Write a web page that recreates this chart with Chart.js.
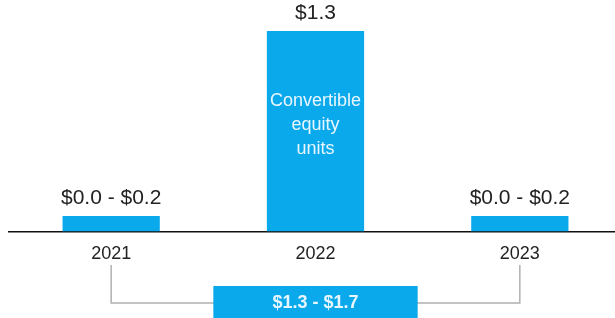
<!DOCTYPE html>
<html>
<head>
<meta charset="utf-8">
<script src="https://cdn.jsdelivr.net/npm/chart.js@4"></script>
<style>
  html, body { margin: 0; padding: 0; background: #fff; overflow: hidden; width: 615px; height: 318px; }
  #wrap { width: 615px; height: 318px; overflow: hidden; position: relative; }
  canvas { display: block; }
</style>
</head>
<body>
<div id="wrap"><canvas id="chart" width="622" height="318"></canvas></div>
<script>
var years = ["2021", "2022", "2023"];
var values = [0.1, 1.3, 0.1];
var valueLabels = ["$0.0 - $0.2", "$1.3", "$0.0 - $0.2"];
var innerLabel = ["Convertible", "equity", "units"];
var totalLabel = "$1.3 - $1.7";

var blue = "#0aa9ec";
var fontName = "'Liberation Sans', Arial, sans-serif";

var labelPlugin = {
    id: "labels",
    afterDatasetsDraw: function(chart) {
        var ctx = chart.ctx;
        var meta = chart.getDatasetMeta(0);
        ctx.save();
        ctx.textAlign = "center";
        ctx.textBaseline = "bottom";
        ctx.fillStyle = "#222";
        ctx.font = "21px " + fontName;
        meta.data.forEach(function(bar, i) {
            ctx.fillText(valueLabels[i], bar.x, bar.y - 7);
        });
        // text inside the tall bar
        var big = meta.data[1];
        ctx.fillStyle = "#e8f7ff";
        ctx.font = "18px " + fontName;
        ctx.textBaseline = "middle";
        innerLabel.forEach(function(t, j) {
            ctx.fillText(t, big.x, 101 + j * 24);
        });
        ctx.restore();
    },
    afterDraw: function(chart) {
        var ctx = chart.ctx;
        var x = chart.scales.x;
        var x0 = x.getPixelForValue(0);
        var x1 = x.getPixelForValue(1);
        var x2 = x.getPixelForValue(2);
        var half = (x2 - x0) / 4;
        ctx.save();
        ctx.strokeStyle = "#b0b0b0";
        ctx.lineWidth = 1.5;
        ctx.beginPath();
        ctx.moveTo(x0, 265);
        ctx.lineTo(x0, 303);
        ctx.lineTo(x2, 303);
        ctx.lineTo(x2, 265);
        ctx.stroke();
        ctx.fillStyle = blue;
        ctx.fillRect(x1 - half, 286, half * 2, 40);
        ctx.fillStyle = "#e8f7ff";
        ctx.font = "bold 18px " + fontName;
        ctx.textAlign = "center";
        ctx.textBaseline = "middle";
        ctx.fillText(totalLabel, x1, 303);
        ctx.restore();
    }
};

new Chart(document.getElementById("chart").getContext("2d"), {
    type: "bar",
    data: {
        labels: years,
        datasets: [{
            data: values,
            backgroundColor: blue,
            borderWidth: 0,
            barPercentage: 0.476,
            categoryPercentage: 1
        }]
    },
    options: {
        responsive: false,
        animation: false,
        layout: { padding: { left: 9, right: 0, top: 31, bottom: 41 } },
        plugins: { legend: { display: false }, tooltip: { enabled: false } },
        scales: {
            x: {
                grid: { display: false, drawTicks: false },
                border: { display: true, color: "#111", width: 1.5 },
                ticks: { color: "#222", font: { family: fontName, size: 18 }, padding: 12 }
            },
            y: {
                display: false,
                min: 0,
                max: 1.3
            }
        }
    },
    plugins: [labelPlugin]
});
</script>
</body>
</html>
